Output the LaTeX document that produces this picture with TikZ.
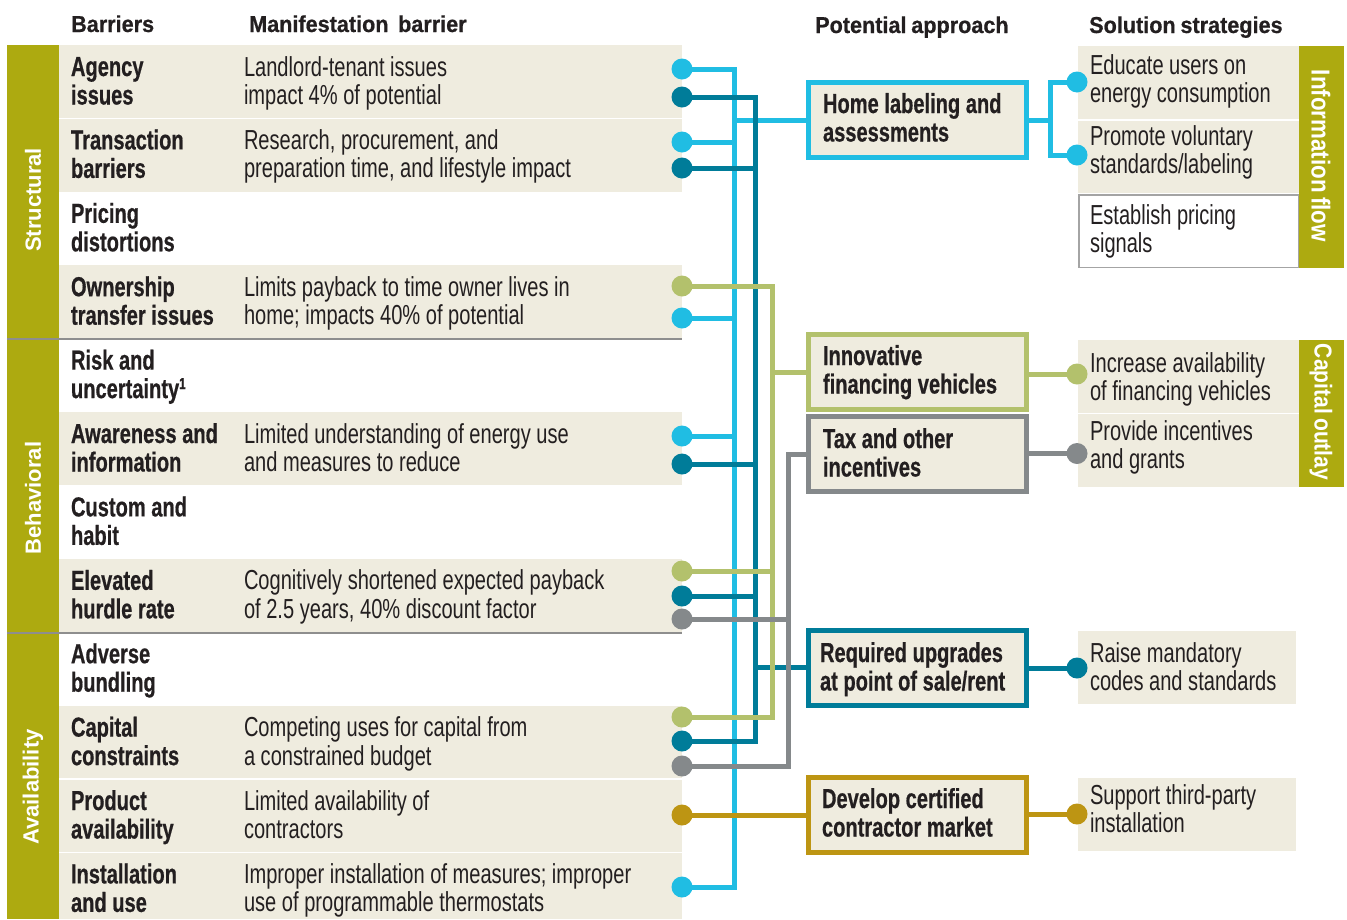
\documentclass[tikz,border=0pt]{standalone}
\usepackage{fontspec}
\setmainfont{Liberation Sans}[FakeStretch=0.73, BoldFeatures={FakeBold=0.6}]
\newfontfamily\hdfont{Liberation Sans}[FakeStretch=0.94, WordSpace=0.8, BoldFeatures={FakeBold=0.7}]
\newfontfamily\bandfont{Liberation Sans}
\newfontfamily\sidefont{Liberation Sans}[FakeStretch=0.86, WordSpace=0.7]
\definecolor{cCyan}{HTML}{20BDE3}
\definecolor{cTeal}{HTML}{007C99}
\definecolor{cGreen}{HTML}{B3C16C}
\definecolor{cGray}{HTML}{85898B}
\definecolor{cGold}{HTML}{BD9513}
\definecolor{cOlive}{HTML}{ADAA10}
\definecolor{cBeige}{HTML}{EFECDF}
\definecolor{cText}{HTML}{231F20}
\definecolor{cSep}{HTML}{8E8E8E}
\pgfdeclarelayer{bg}
\pgfdeclarelayer{lines}
\pgfsetlayers{bg,lines,main}
\newcommand\bodysize{\fontsize{27.5}{28.5}\selectfont}
\begin{document}
\begin{tikzpicture}[x=1pt,y=-1pt,
  txt/.style={anchor=base west, inner sep=0pt, outer sep=0pt, text width=460pt, align=left, text=cText, font=\bodysize, execute at begin node={\spaceskip=5.6pt plus 2pt\relax}},
  btxt/.style={txt, font=\bodysize\bfseries},
  hdr/.style={anchor=base west, inner sep=0pt, text=cText, font=\hdfont\bfseries\fontsize{23}{23}\selectfont},
  band/.style={inner sep=0pt, text=white, font=\bandfont\bfseries\fontsize{22}{22}\selectfont},
  sideband/.style={inner sep=0pt, text=white, font=\sidefont\bfseries\fontsize{26}{26}\selectfont},
  dot/.style={circle, inner sep=0pt, minimum size=21pt},
  abox/.style={rectangle, line width=5pt, fill=cBeige, minimum width=218pt, minimum height=75pt, inner sep=0pt, outer sep=0pt},
  conn/.style={line width=5pt},
  rowbg/.style={fill=cBeige}]
\useasboundingbox (0,0) rectangle (1347,919);

\begin{pgfonlayer}{bg}
% left rows
\fill[rowbg] (59,45) rectangle (682,117.6);
\fill[rowbg] (59,119.2) rectangle (682,191.8);
\fill[rowbg] (59,265.2) rectangle (682,338.4);
\fill[rowbg] (59,412) rectangle (682,485.4);
\fill[rowbg] (59,558.8) rectangle (682,631.8);
\fill[rowbg] (59,705.6) rectangle (682,778);
\fill[rowbg] (59,779.6) rectangle (682,851.6);
\fill[rowbg] (59,853.2) rectangle (682,919);
% left bands
\fill[cOlive] (7,45) rectangle (59,338.4);
\fill[cOlive] (7,340.4) rectangle (59,631.8);
\fill[cOlive] (7,633.6) rectangle (59,919);
\draw[cSep, line width=2pt] (7,339.4) -- (682,339.4);
\draw[cSep, line width=2pt] (7,632.7) -- (682,632.7);
% right panels
\fill[rowbg] (1078,46) rectangle (1299,119);
\fill[rowbg] (1078,120.5) rectangle (1299,193);
\draw[cSep!80, line width=1.5pt, fill=white] (1078.75,194.75) rectangle (1298.25,267.25);
\fill[cOlive] (1299,46) rectangle (1344,268);
\fill[rowbg] (1078,340) rectangle (1299,412.5);
\fill[rowbg] (1078,414) rectangle (1299,486.5);
\fill[cOlive] (1299,340) rectangle (1344,486.5);
\fill[rowbg] (1078,631) rectangle (1296,704);
\fill[rowbg] (1078,778) rectangle (1296,851);
\end{pgfonlayer}

% headers
\node[hdr] (hB) at (71,32) {Barriers};
\node[hdr] (hM) at (249,32) {Manifestation\ \ barrier};
\node[hdr] (hP) at (815,33) {Potential approach};
\node[hdr] (hS) at (1089,33) {Solution strategies};

% band labels
\node[band, rotate=90] (bS) at (33,200) {Structural};
\node[band, rotate=90] (bB) at (33,498) {Behavioral};
\node[band, rotate=90] (bA) at (33,787) {Availability};
\node[sideband, rotate=-90] (bI) at (1321,156) {Information flow};
\node[sideband, rotate=-90, font=\sidefont\bfseries\fontsize{24.5}{24.5}\selectfont] (bC) at (1321,412) {Capital outlay};

% barrier labels
\node[btxt] (l1) at (71,76) {Agency\\issues};
\node[btxt] (l2) at (71,149.4) {Transaction\\barriers};
\node[btxt] (l3) at (71,222.8) {Pricing\\distortions};
\node[btxt] (l4) at (71,296.2) {Ownership\\transfer issues};
\node[btxt] (l5) at (71,369.6) {Risk and\\uncertainty\raisebox{9pt}{\fontsize{16}{16}\selectfont 1}};
\node[btxt] (l6) at (71,443) {Awareness and\\information};
\node[btxt] (l7) at (71,516.4) {Custom and\\habit};
\node[btxt] (l8) at (71,589.8) {Elevated\\hurdle rate};
\node[btxt] (l9) at (71,663.2) {Adverse\\bundling};
\node[btxt] (l10) at (71,736.6) {Capital\\constraints};
\node[btxt] (l11) at (71,810) {Product\\availability};
\node[btxt] (l12) at (71,883.4) {Installation\\and use};

% manifestations
\node[txt] (m1) at (244,76) {Landlord-tenant issues\\impact 4\% of potential};
\node[txt] (m2) at (244,149.4) {Research, procurement, and\\preparation time, and lifestyle impact};
\node[txt] (m4) at (244,296.2) {Limits payback to time owner lives in\\home; impacts 40\% of potential};
\node[txt] (m6) at (244,443) {Limited understanding of energy use\\and measures to reduce};
\node[txt] (m8) at (244,589.8) {Cognitively shortened expected payback\\of 2.5 years, 40\% discount factor};
\node[txt] (m10) at (244,736.6) {Competing uses for capital from\\a constrained budget};
\node[txt] (m11) at (244,810) {Limited availability of\\contractors};
\node[txt] (m12) at (244,883.4) {Improper installation of measures; improper\\use of programmable thermostats};

% left dots
\node[dot, fill=cCyan] (a1) at (682,69) {};
\node[dot, fill=cTeal] (a2) at (682,97) {};
\node[dot, fill=cCyan] (t1) at (682,142) {};
\node[dot, fill=cTeal] (t2) at (682,168) {};
\node[dot, fill=cGreen] (o1) at (682,286) {};
\node[dot, fill=cCyan] (o2) at (682,318) {};
\node[dot, fill=cCyan] (w1) at (682,436) {};
\node[dot, fill=cTeal] (w2) at (682,464) {};
\node[dot, fill=cGreen] (e1) at (682,571) {};
\node[dot, fill=cTeal] (e2) at (682,596) {};
\node[dot, fill=cGray] (e3) at (682,619) {};
\node[dot, fill=cGreen] (c1) at (682,717) {};
\node[dot, fill=cTeal] (c2) at (682,741) {};
\node[dot, fill=cGray] (c3) at (682,766) {};
\node[dot, fill=cGold] (p1) at (682,815) {};
\node[dot, fill=cCyan] (i1) at (682,887) {};

% approach boxes
\node[abox, draw=cCyan] (hl) at (917.5,120) {};
\node[abox, draw=cGreen] (inn) at (917.5,372) {};
\node[abox, draw=cGray] (tax) at (917.5,454) {};
\node[abox, draw=cTeal] (req) at (917.5,667.5) {};
\node[abox, draw=cGold] (dev) at (917.5,814.5) {};
\node[btxt] (hlT) at (823,113) {Home labeling and\\assessments};
\node[btxt] (innT) at (823,365) {Innovative\\financing vehicles};
\node[btxt] (taxT) at (823,448) {Tax and other\\incentives};
\node[btxt] (reqT) at (820,662) {Required upgrades\\at point of sale/rent};
\node[btxt] (devT) at (822,808) {Develop certified\\contractor market};

% right dots
\node[dot, fill=cCyan] (s1) at (1077,82) {};
\node[dot, fill=cCyan] (s2) at (1077,155) {};
\node[dot, fill=cGreen] (s3) at (1077,374) {};
\node[dot, fill=cGray] (s4) at (1077,453.5) {};
\node[dot, fill=cTeal] (s5) at (1077,668) {};
\node[dot, fill=cGold] (s6) at (1077,814) {};

% solution texts
\node[txt] (r1) at (1090,74) {Educate users on\\energy consumption};
\node[txt] (r2) at (1090,145) {Promote voluntary\\standards/labeling};
\node[txt] (r3) at (1090,224) {Establish pricing\\signals};
\node[txt] (r4) at (1090,372) {Increase availability\\of financing vehicles};
\node[txt] (r5) at (1090,440) {Provide incentives\\and grants};
\node[txt] (r6) at (1090,662) {Raise mandatory\\codes and standards};
\node[txt] (r7) at (1090,804) {Support third-party\\installation};

% bus coordinates
\coordinate (cb) at (734,0);
\coordinate (tb) at (755,0);
\coordinate (gb) at (772,0);
\coordinate (yb) at (788,0);
\coordinate (cr) at (1050,0);

\begin{pgfonlayer}{lines}
% cyan
\draw[conn, cCyan] (a1.center) -| (i1.center -| cb) -- (i1.center);
\draw[conn, cCyan] (t1.center) -- (t1.center -| cb);
\draw[conn, cCyan] (o2.center) -- (o2.center -| cb);
\draw[conn, cCyan] (w1.center) -- (w1.center -| cb);
\draw[conn, cCyan] (hl.west -| cb) -- (hl.west);
% teal
\draw[conn, cTeal] (a2.center) -| (c2.center -| tb) -- (c2.center);
\draw[conn, cTeal] (t2.center) -- (t2.center -| tb);
\draw[conn, cTeal] (w2.center) -- (w2.center -| tb);
\draw[conn, cTeal] (e2.center) -- (e2.center -| tb);
\draw[conn, cTeal] (req.west -| tb) -- (req.west);
% green
\draw[conn, cGreen] (o1.center) -| (c1.center -| gb) -- (c1.center);
\draw[conn, cGreen] (e1.center) -- (e1.center -| gb);
\draw[conn, cGreen] (inn.west -| gb) -- (inn.west);
% gray
\draw[conn, cGray] (tax.west) -| (c3.center -| yb) -- (c3.center);
\draw[conn, cGray] (e3.center) -- (e3.center -| yb);
% gold
\draw[conn, cGold] (p1.center) -- (p1.center -| dev.west);
% right side
\draw[conn, cCyan] (hl.east) -- (hl.east -| cr);
\draw[conn, cCyan] (s1.center) -| (s2.center -| cr) -- (s2.center);
\draw[conn, cGreen] (s3.center -| inn.east) -- (s3.center);
\draw[conn, cGray] (s4.center -| tax.east) -- (s4.center);
\draw[conn, cTeal] (s5.center -| req.east) -- (s5.center);
\draw[conn, cGold] (s6.center -| dev.east) -- (s6.center);
\end{pgfonlayer}
\end{tikzpicture}
\end{document}
